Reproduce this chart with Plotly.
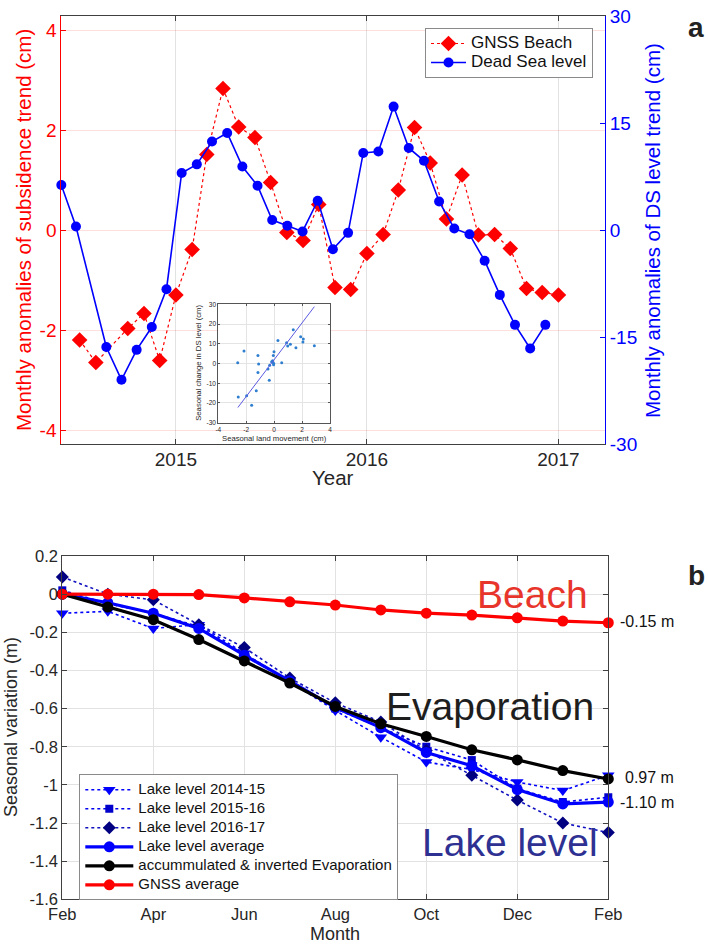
import plotly.graph_objects as go

W, H = 708, 948
FONT = "Liberation Sans, Arial, Helvetica, sans-serif"
INK = "#262626"


def px(x):
    return x / W


def py(y):
    return 1 - y / H


def lg(text, size):
    return "<span style='font-size:%gpx'>%s</span>" % (size, text)


# ---------------- Panel a data ----------------
ds_dates = ["2014-05-27", "2014-06-24", "2014-08-21", "2014-09-19", "2014-10-18", "2014-11-16",
            "2014-12-14", "2015-01-12", "2015-02-10", "2015-03-11", "2015-04-09", "2015-05-08",
            "2015-06-06", "2015-07-04", "2015-08-02", "2015-08-31", "2015-09-29", "2015-10-28",
            "2015-11-26", "2015-12-25", "2016-01-23", "2016-02-21", "2016-03-21", "2016-04-19",
            "2016-05-18", "2016-06-16", "2016-07-15", "2016-08-13", "2016-09-11", "2016-10-10",
            "2016-11-08", "2016-12-07"]
ds_level_cm = [6.3, 0.5, -16.4, -21.0, -16.8, -13.6, -8.3, 8.0, 9.2, 12.4, 13.6, 8.9,
               6.2, 1.4, 0.6, -0.2, 4.1, -2.7, -0.4, 10.8, 11.0, 17.3, 11.5, 9.7,
               4.0, 0.2, -0.6, -4.3, -9.1, -13.3, -16.6, -13.3]

gnss_dates = ["2014-07-01", "2014-08-01", "2014-10-01", "2014-11-01", "2014-12-01",
              "2015-01-01", "2015-02-01", "2015-03-01", "2015-04-01", "2015-05-01", "2015-06-01",
              "2015-07-01", "2015-08-01", "2015-09-01", "2015-10-01", "2015-11-01", "2015-12-01",
              "2016-01-01", "2016-02-01", "2016-03-01", "2016-04-01", "2016-05-01", "2016-06-01",
              "2016-07-01", "2016-08-01", "2016-09-01", "2016-10-01", "2016-11-01", "2016-12-01",
              "2017-01-01"]
gnss_beach_cm = [-2.2, -2.65, -1.97, -1.67, -2.61, -1.3, -0.39, 1.51, 2.83, 2.06, 1.85, 0.95,
                 -0.05, -0.21, 0.51, -1.15, -1.19, -0.47, -0.09, 0.8, 2.05, 1.34, 0.22, 1.1,
                 -0.1, -0.09, -0.37, -1.17, -1.25, -1.3]

year_ticks = ["2015-01-01", "2016-01-01", "2017-01-01"]
year_labels = ["2015", "2016", "2017"]
left_ticks = [-4, -2, 0, 2, 4]
left_labels = ["-4", "-2", "0", "2", "4"]
right_ticks = [-30, -15, 0, 15, 30]
right_labels = ["-30", "-15", "0", "15", "30"]

# inset scatter
land_move_cm = [-2.61, -2.16, -2.57, -1.97, -1.61, -1.16, -1.11, -1.16, -1.28, -0.35, -0.44,
                -0.32, -0.18, -0.11, -0.01, -0.06, -0.04, -0.04, 0.54, 0.27, 0.89, 0.97, 1.16,
                1.37, 1.56, 1.9, 2.09, 2.06, 2.88]
ds_change_cm = [0.4, 6.3, -17.0, -16.3, -21.2, 4.0, -0.3, -4.5, -13.8, -8.5, -2.8,
                -0.9, 0.9, 1.4, 6.0, 4.0, 0.1, -0.6, 0.4, 11.6, 10.5, 8.9, 9.7,
                17.1, 8.0, 13.6, 12.4, 10.9, 9.0]
fit_x = [-2.6, 2.88]
fit_y = [-22.3, 28.8]
inset_xt = [-4, -2, 0, 2, 4]
inset_xl = ["-4", "-2", "0", "2", "4"]
inset_yt = [-30, -20, -10, 0, 10, 20, 30]
inset_yl = ["-30", "-20", "-10", "0", "10", "20", "30"]

# ---------------- Panel b data ----------------
month_pos = [0, 1, 2, 3, 4, 5, 6, 7, 8, 9, 10, 11, 12]
month_tick_pos = [0, 2, 4, 6, 8, 10, 12]
month_labels = ["Feb", "Apr", "Jun", "Aug", "Oct", "Dec", "Feb"]
lake_1415 = [-0.10, -0.09, -0.18, -0.16, -0.31, -0.46, -0.61, -0.75, -0.88, -0.92, -0.985, -1.03, -0.95]
lake_1516 = [0.02, -0.05, -0.10, -0.17, -0.32, -0.46, -0.60, -0.70, -0.80, -0.87, -1.02, -1.09, -1.065]
lake_1617 = [0.09, 0.00, -0.03, -0.16, -0.28, -0.44, -0.57, -0.67, -0.82, -0.95, -1.08, -1.20, -1.25]
lake_avg = [0.0, -0.045, -0.10, -0.18, -0.32, -0.455, -0.595, -0.70, -0.83, -0.90, -1.025, -1.10, -1.09]
evap_inv = [0.0, -0.068, -0.134, -0.238, -0.35, -0.466, -0.589, -0.68, -0.746, -0.816, -0.869, -0.925, -0.969]
gnss_avg = [0.0, 0.0, 0.0, -0.002, -0.02, -0.04, -0.057, -0.083, -0.10, -0.11, -0.124, -0.141, -0.15]
b_yticks = [-1.6, -1.4, -1.2, -1.0, -0.8, -0.6, -0.4, -0.2, 0.0, 0.2]
b_ylabels = ["-1.6", "-1.4", "-1.2", "-1", "-0.8", "-0.6", "-0.4", "-0.2", "0", "0.2"]

fig = go.Figure()

# ---- Panel a traces ----
fig.add_trace(go.Scatter(
    x=gnss_dates, y=gnss_beach_cm, name=lg("GNSS Beach", 17), xaxis="x", yaxis="y",
    mode="lines+markers", line=dict(color="#ff0000", width=1.2, dash="dot"),
    marker=dict(symbol="diamond", size=12, color="#ff0000"),
    cliponaxis=False, legend="legend"))
fig.add_trace(go.Scatter(
    x=ds_dates, y=ds_level_cm, name=lg("Dead Sea level", 17), xaxis="x", yaxis="y2",
    mode="lines+markers", line=dict(color="#0000ff", width=1.6),
    marker=dict(symbol="circle", size=10, color="#0000ff"),
    cliponaxis=False, legend="legend"))

# ---- Panel b traces ----
fig.add_trace(go.Scatter(
    x=month_pos, y=lake_1415, name=lg("Lake level 2014-15", 15), xaxis="x2", yaxis="y3",
    mode="lines+markers", line=dict(color="#0000ff", width=1.6, dash="dot"),
    marker=dict(symbol="triangle-down", size=11, color="#0000ff"),
    cliponaxis=False, legend="legend2"))
fig.add_trace(go.Scatter(
    x=month_pos, y=lake_1516, name=lg("Lake level 2015-16", 15), xaxis="x2", yaxis="y3",
    mode="lines+markers", line=dict(color="#0000ee", width=1.6, dash="dot"),
    marker=dict(symbol="square", size=8, color="#0000cc"),
    cliponaxis=False, legend="legend2"))
fig.add_trace(go.Scatter(
    x=month_pos, y=lake_1617, name=lg("Lake level 2016-17", 15), xaxis="x2", yaxis="y3",
    mode="lines+markers", line=dict(color="#1010c0", width=1.6, dash="dot"),
    marker=dict(symbol="diamond", size=10, color="#000080"),
    cliponaxis=False, legend="legend2"))
fig.add_trace(go.Scatter(
    x=month_pos, y=lake_avg, name=lg("Lake level average", 15), xaxis="x2", yaxis="y3",
    mode="lines+markers", line=dict(color="#0000ff", width=3.2),
    marker=dict(symbol="circle", size=11, color="#0000ff"),
    cliponaxis=False, legend="legend2"))
fig.add_trace(go.Scatter(
    x=month_pos, y=evap_inv, name=lg("accummulated &amp; inverted Evaporation", 15),
    xaxis="x2", yaxis="y3",
    mode="lines+markers", line=dict(color="#000000", width=3.2),
    marker=dict(symbol="circle", size=11, color="#000000"),
    cliponaxis=False, legend="legend2"))
fig.add_trace(go.Scatter(
    x=month_pos, y=gnss_avg, name=lg("GNSS average", 15), xaxis="x2", yaxis="y3",
    mode="lines+markers", line=dict(color="#ff0000", width=3.2),
    marker=dict(symbol="circle", size=11, color="#ff0000"),
    cliponaxis=False, legend="legend2"))

# ---- Inset traces ----
fig.add_trace(go.Scatter(
    x=land_move_cm, y=ds_change_cm, xaxis="x3", yaxis="y4", mode="markers",
    marker=dict(size=3, color="#2f7fd0"), showlegend=False))
fig.add_trace(go.Scatter(
    x=fit_x, y=fit_y, xaxis="x3", yaxis="y4", mode="lines",
    line=dict(color="#5a5ae0", width=1), showlegend=False))

axis_common = dict(showline=True, zeroline=False, ticks="inside", ticklen=5, automargin=False)

fig.update_layout(
    width=W, height=H, margin=dict(l=0, r=0, t=0, b=0, autoexpand=False),
    paper_bgcolor="white", plot_bgcolor="white",
    font=dict(family=FONT, color=INK),
    xaxis=dict(domain=[px(61.3), px(605)], anchor="y", type="date",
               range=["2014-05-27", "2017-03-31"],
               tickvals=year_ticks, ticktext=year_labels, ticklabelstandoff=-2,
               tickfont=dict(size=19, color=INK), linecolor="#404040", tickcolor="#404040",
               mirror="ticks", showgrid=True, gridcolor="#e2e2e2", **axis_common),
    yaxis=dict(domain=[py(444), py(16)], anchor="x", range=[-4.28, 4.28],
               tickvals=left_ticks, ticktext=left_labels,
               tickfont=dict(size=19, color="#ff0000"), linecolor="#ff0000", tickcolor="#ff0000",
               showgrid=True, gridcolor="rgba(255,0,0,0.13)", **axis_common),
    yaxis2=dict(overlaying="y", side="right", anchor="x", range=[-30, 30],
                tickvals=right_ticks, ticktext=right_labels,
                tickfont=dict(size=19, color="#0000ff"), linecolor="#0000ff", tickcolor="#0000ff",
                showgrid=False, **axis_common),
    xaxis2=dict(domain=[px(62.3), px(608.3)], anchor="y3", range=[0, 12],
                tickvals=month_tick_pos, ticktext=month_labels,
                tickfont=dict(size=16.5, color=INK), linecolor="#404040", tickcolor="#404040",
                mirror="ticks", showgrid=True, gridcolor="#e2e2e2", **axis_common),
    yaxis3=dict(domain=[py(899.3), py(556)], anchor="x2", range=[-1.6, 0.2],
                tickvals=b_yticks, ticktext=b_ylabels,
                tickfont=dict(size=16.5, color=INK), linecolor="#404040", tickcolor="#404040",
                mirror="ticks", showgrid=True, gridcolor="#e2e2e2", **axis_common),
    xaxis3=dict(domain=[px(218.3), px(330)], anchor="y4", range=[-4, 4],
                tickvals=inset_xt, ticktext=inset_xl, tickfont=dict(size=6.5, color=INK),
                showline=True, mirror="ticks", linecolor="#555555", ticks="inside", ticklen=2,
                tickcolor="#555555", zeroline=False, showgrid=True, gridcolor="#e4e4e4",
                automargin=False),
    yaxis4=dict(domain=[py(422.7), py(304.3)], anchor="x3", range=[-30, 30],
                tickvals=inset_yt, ticktext=inset_yl, tickfont=dict(size=6.5, color=INK),
                showline=True, mirror="ticks", linecolor="#555555", ticks="inside", ticklen=2,
                tickcolor="#555555", zeroline=False, showgrid=True, gridcolor="#e4e4e4",
                automargin=False),
    legend=dict(x=px(593), xanchor="right", y=py(28), yanchor="top",
                font=dict(size=12, family=FONT, color="#111111"),
                bgcolor="white", bordercolor="#8a8a8a", borderwidth=1,
                itemwidth=35, tracegroupgap=0),
    legend2=dict(x=px(79.3), xanchor="left", y=py(774.3), yanchor="top",
                 font=dict(size=11, family=FONT, color="#111111"),
                 bgcolor="white", bordercolor="#8a8a8a", borderwidth=1,
                 itemwidth=48, tracegroupgap=0),
    showlegend=True,
)

# White backing for the inset (covers main grid lines behind it)
fig.add_shape(type="rect", xref="x3 domain", yref="y4 domain",
              x0=-0.22, x1=1.04, y0=-0.165, y1=1.06, layer="below",
              fillcolor="white", line=dict(width=0))

ann = []
ann.append(dict(text="Monthly anomalies of subsidence trend (cm)", x=px(23), y=py(230),
                textangle=-90, font=dict(size=20.5, color="#ff0000")))
ann.append(dict(text="Monthly anomalies of DS level trend (cm)", x=px(653), y=py(231),
                textangle=-90, font=dict(size=20.5, color="#0000ff")))
ann.append(dict(text="Year", x=px(333.3), y=py(478), font=dict(size=20.5, color=INK)))
ann.append(dict(text="Seasonal change in DS level (cm)", x=px(198.3), y=py(362.5),
                textangle=-90, font=dict(size=7.7, color=INK)))
ann.append(dict(text="Seasonal land movement (cm)", x=px(274.7), y=py(438),
                font=dict(size=7.7, color=INK)))
ann.append(dict(text="<b>a</b>", x=px(696), y=py(28), font=dict(size=28, color="#222222")))
ann.append(dict(text="<b>b</b>", x=px(696), y=py(575), font=dict(size=28, color="#222222")))
ann.append(dict(text="Seasonal variation (m)", x=px(11), y=py(727),
                textangle=-90, font=dict(size=18, color=INK)))
ann.append(dict(text="Month", x=px(334.7), y=py(934), font=dict(size=18, color=INK)))
ann.append(dict(text="Beach", x=px(532), y=py(594), font=dict(size=39, color="#e8352b")))
ann.append(dict(text="Evaporation", x=px(490), y=py(706), font=dict(size=39, color="#1e1e1e")))
ann.append(dict(text="Lake level", x=px(510), y=py(842), font=dict(size=39, color="#2e3192")))
ann.append(dict(text="-0.15 m", x=px(617.7), y=py(621.7), xanchor="left",
                font=dict(size=16, color="#111111")))
ann.append(dict(text="0.97 m", x=px(622.7), y=py(777.7), xanchor="left",
                font=dict(size=16, color="#111111")))
ann.append(dict(text="-1.10 m", x=px(617.7), y=py(802.7), xanchor="left",
                font=dict(size=16, color="#111111")))

for a in ann:
    a.setdefault("xanchor", "center")
    a.setdefault("yanchor", "middle")
    a.update(xref="paper", yref="paper", showarrow=False)
    a["font"]["family"] = FONT
fig.update_layout(annotations=ann)

fig.write_html("out.html", config={"displayModeBar": False},
               post_script="document.body.style.margin='0';document.body.style.overflow='hidden';")
